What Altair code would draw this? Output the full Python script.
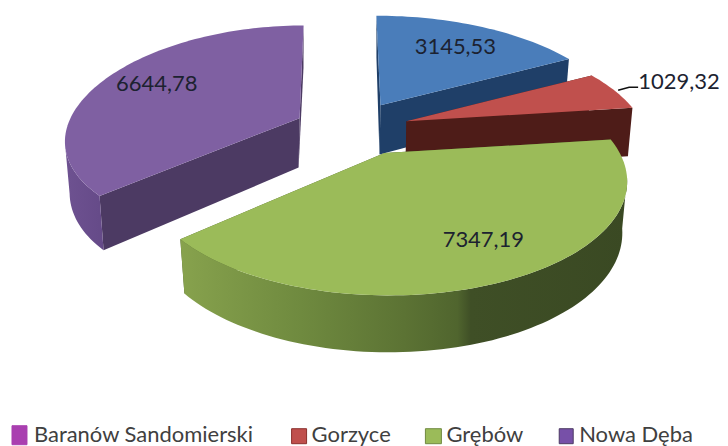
import math
import altair as alt
import pandas as pd

names = ["Baranów Sandomierski", "Gorzyce", "Grębów", "Nowa Dęba"]
values = [3145.53, 1029.32, 7347.19, 6644.78]
labels = ["3145,53", "1029,32", "7347,19", "6644,78"]

# layout constants of the tilted pie (pixel space of the picture)
APEX = [(381, 105), (407, 121), (385, 153), (300, 118)]
SX = [1.0, 0.99, 0.99, 0.964]
PX = [0.228, 0.228, 0.228, 0.2]
RYS = [110, 109, 110, 106]
PY = [0.228, 0.228, 0.228, 0.1425]
RX, VX, K = 238, 340, 0.1
LABEL_POS = [(456, 47), (680, 82), (484, 240), (157, 84)]
TOPS = ["#4a7dba", "#c0504d", "#9bbb59", "#7f60a2"]
WALLS = ["#1f3f68", "#4e1c18", "#4a5c2c", "#4c3a63"]
OUTER = [
    [("#2d5a8c", 0), ("#2d5a8c", 1)],
    [("#7a2e2b", 0), ("#7a2e2b", 1)],
    [("#87a24d", 0), ("#6f8a3f", 0.27), ("#5c7334", 0.5), ("#50652e", 0.62), ("#3f4f26", 0.65), ("#3a4923", 1)],
    [("#6e5291", 0), ("#654a88", 1)],
]

X = alt.X("x:Q", scale=alt.Scale(domain=[8, 720], range=[0, 712]), axis=None)
Y = alt.Y("y:Q", scale=alt.Scale(domain=[8, 446], range=[0, 438]), axis=None)


def top(i, th):
    ax, ay = APEX[i]
    u, v = math.sin(th), math.cos(th)
    return (ax + SX[i] * RX * u / (1 + PX[i] * v) - K * (ax - VX) * v, ay - RYS[i] * v / (1 + PY[i] * v))


def bottom(i, th):
    ax, ay = APEX[i]
    x, y = top(i, th)
    v = math.cos(th)
    return (ax + (x - ax) * 0.98, y + 49.5 - 7.5 * v)


def poly(points, fill):
    df = pd.DataFrame({"x": [p[0] for p in points], "y": [p[1] for p in points], "i": range(len(points))})
    return (
        alt.Chart(df)
        .mark_line(fill=fill, filled=True, strokeWidth=0, strokeOpacity=0, interpolate="linear-closed")
        .encode(x=X, y=Y, order=alt.Order("i:Q"))
    )


def gradient(stops):
    return alt.Gradient(
        gradient="linear", x1=0, x2=1, y1=0, y2=0,
        stops=[alt.GradientStop(color=c, offset=o) for c, o in stops],
    )


total = sum(values)
layers = []
start = 0.0
angles = []
for v in values:
    end = start + v / total * 2 * math.pi
    angles.append((start, end))
    start = end

for i in [3, 0, 1, 2]:
    a0, a1 = angles[i]
    n = max(8, int((a1 - a0) / math.radians(1.5)))
    ths = [a0 + (a1 - a0) * k / n for k in range(n + 1)]
    ax, ay = APEX[i]
    apex_b = (ax - 1, ay + 49.5)
    for th in (a0, a1):
        layers.append(poly([(ax, ay), top(i, th), bottom(i, th), apex_b], WALLS[i]))
    front = [t for t in ths if math.cos(t) <= -0.2]
    if front:
        outer = [top(i, t) for t in front] + [bottom(i, t) for t in reversed(front)]
        layers.append(poly(outer, gradient(OUTER[i])))
    layers.append(poly([(ax, ay)] + [top(i, t) for t in ths], TOPS[i]))

# leader line for the small slice
leader = pd.DataFrame({"x": [619, 630, 639], "y": [90, 87, 87], "i": [0, 1, 2]})
layers.append(alt.Chart(leader).mark_line(color="#111111", strokeWidth=1.6).encode(x=X, y=Y, order="i:Q"))

lab = pd.DataFrame({"x": [p[0] for p in LABEL_POS], "y": [p[1] for p in LABEL_POS], "t": labels})
layers.append(
    alt.Chart(lab).mark_text(font="Lato", fontSize=22, color="#1c2230", align="center", baseline="middle").encode(x=X, y=Y, text="t:N")
)

# legend
LEG_BOX = [(12, 27, 426, 445), (292, 307, 429, 444), (426, 442, 429, 444), (560, 574, 429, 444)]
LEG_TEXT = [34, 312, 447, 580]
LEG_COL = ["#a93fb0", "#c0504d", "#9bbb59", "#7750a8"]
LEG_STROKE = ["#a93fb0", "#8a2f2c", "#6f8a3f", "#4c3a63"]
for b, c, s in zip(LEG_BOX, LEG_COL, LEG_STROKE):
    d = pd.DataFrame({"x": [b[0]], "x2": [b[1]], "y": [b[2]], "y2": [b[3]]})
    layers.append(alt.Chart(d).mark_rect(color=c, stroke=s, strokeWidth=1).encode(x=X, x2="x2:Q", y=Y, y2="y2:Q"))
leg = pd.DataFrame({"x": LEG_TEXT, "y": [435] * 4, "t": names})
layers.append(
    alt.Chart(leg).mark_text(font="Lato", fontSize=22, color="#404040", align="left", baseline="middle").encode(x=X, y=Y, text="t:N")
)

chart = (
    alt.layer(*layers)
    .properties(width=712, height=438, padding=0, background="#ffffff")
    .configure_view(stroke=None)
)
chart.save("out.html", embed_options={"renderer": "svg", "actions": False})
